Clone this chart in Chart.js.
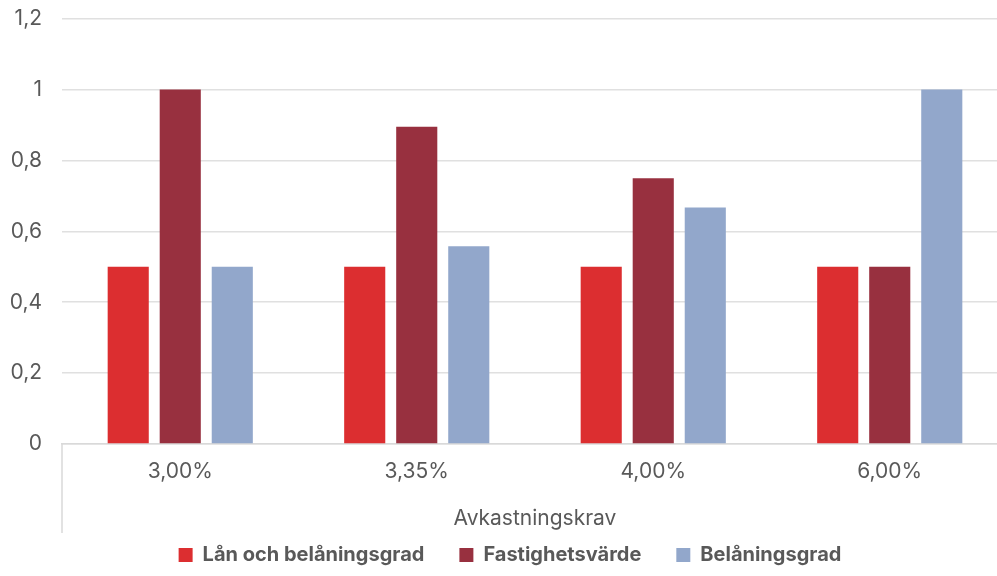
<!DOCTYPE html>
<html>
<head>
<meta charset="utf-8">
<script src="https://cdn.jsdelivr.net/npm/chart.js@4/dist/chart.umd.min.js"></script>
<style>
  html, body { margin: 0; padding: 0; background: #fff; overflow: hidden; }
  #wrap { width: 1008px; height: 576px; }
</style>
</head>
<body>
<div id="wrap"><canvas id="c" width="1008" height="576"></canvas></div>
<script>
const categories = ['3,00%', '3,35%', '4,00%', '6,00%'];
const lanOchBelaningsgrad = [0.5, 0.5, 0.5, 0.5];
const fastighetsvarde = [1.0, 0.895, 0.75, 0.5];
const belaningsgrad = [0.5, 0.558, 0.667, 1.0];
const yTicks = [0, 0.2, 0.4, 0.6, 0.8, 1.0, 1.2];

const FONT = 'Inter, "Noto Sans", sans-serif';
const TEXT = '#595959';
const LEGEND_HEIGHT = 43;
const LEGEND_SHIFT = 23;
const LEGEND_NUDGE_X = 12;

// Extends the category axis line on the left down past the axis title
const axisFrame = {
  id: 'axisFrame',
  afterDraw(chart) {
    const { ctx, chartArea } = chart;
    const x = chart.scales.x;
    ctx.save();
    ctx.strokeStyle = '#d9d9d9';
    ctx.lineWidth = 1.5;
    ctx.beginPath();
    ctx.moveTo(chartArea.left, chartArea.bottom);
    ctx.lineTo(chartArea.left, x.bottom);
    ctx.stroke();
    ctx.restore();
  }
};

// Keeps the legend compact vertically while leaving wide gaps between items
const legendPlacement = {
  id: 'legendPlacement',
  beforeUpdate(chart) {
    const lg = chart.legend;
    if (lg && !lg._compactFit) {
      const fit = lg.fit.bind(lg);
      lg.fit = function () { fit(); this.height = LEGEND_HEIGHT; };
      lg._compactFit = true;
    }
  },
  afterLayout(chart) {
    const lg = chart.legend;
    if (lg) { lg.top -= LEGEND_SHIFT; lg.left += LEGEND_NUDGE_X; }
  }
};

new Chart(document.getElementById('c'), {
  type: 'bar',
  data: {
    labels: categories,
    datasets: [
      { label: 'Lån och belåningsgrad', data: lanOchBelaningsgrad, backgroundColor: '#dc2e30' },
      { label: 'Fastighetsvärde', data: fastighetsvarde, backgroundColor: '#98303f' },
      { label: 'Belåningsgrad', data: belaningsgrad, backgroundColor: '#92a7cb' }
    ]
  },
  options: {
    responsive: false,
    animation: false,
    layout: { padding: { top: 0, left: 0, right: 0, bottom: 0 } },
    datasets: { bar: { categoryPercentage: 0.66, barPercentage: 0.79 } },
    scales: {
      x: {
        grid: { display: false, drawTicks: false },
        border: { display: true, color: '#d9d9d9', width: 1.5 },
        ticks: { color: TEXT, font: { family: FONT, size: 21 }, padding: 15 },
        title: {
          display: true, text: 'Avkastningskrav', color: TEXT,
          font: { family: FONT, size: 21 }, padding: { top: 21, bottom: 2 }
        },
        afterFit(s) { s.height = 89; }
      },
      y: {
        min: 0, max: 1.2,
        afterBuildTicks(s) { s.ticks = yTicks.map(v => ({ value: v })); },
        grid: { color: '#e0e0e0', lineWidth: 1.5, drawTicks: true, tickLength: 14, tickColor: 'rgba(0,0,0,0)' },
        border: { display: false },
        ticks: {
          color: TEXT, font: { family: FONT, size: 21 }, padding: 6,
          callback: v => String(Number(v.toFixed(1))).replace('.', ',')
        },
        afterFit(s) { s.width = 62; }
      }
    },
    plugins: {
      legend: {
        position: 'bottom',
        labels: {
          color: TEXT, boxWidth: 14, boxHeight: 14, padding: 35,
          font: { family: FONT, size: 20, weight: 'bold' }
        }
      },
      tooltip: { enabled: false }
    }
  },
  plugins: [axisFrame, legendPlacement]
});
</script>
</body>
</html>
